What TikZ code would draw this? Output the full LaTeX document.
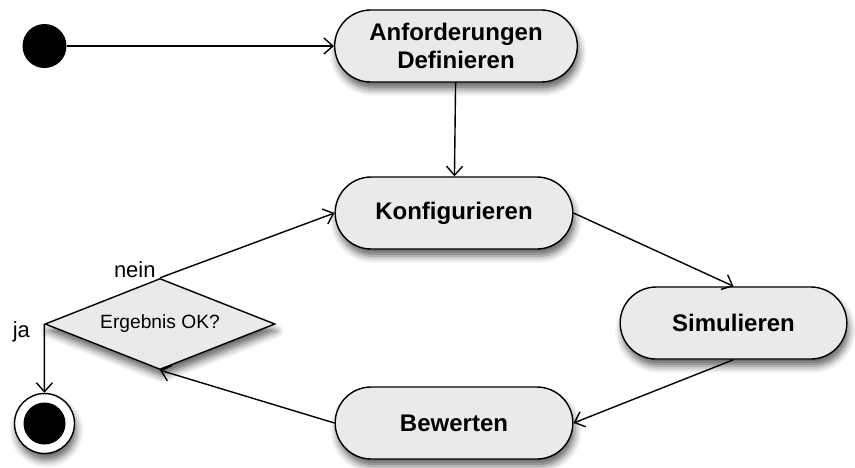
\documentclass[tikz,border=0pt]{standalone}
\usepackage{fontspec}
\setmainfont{Liberation Sans}
\usetikzlibrary{shapes.misc, shapes.geometric, arrows.meta, shadows.blur}
\definecolor{nodegray}{RGB}{234,234,234}

\begin{document}
\begin{tikzpicture}[x=0.5pt, y=-0.5pt,
        shade/.style={blur shadow={shadow xshift=1pt, shadow yshift=-3.5pt, shadow blur radius=3.5pt, shadow opacity=60}},
        state/.style={rounded rectangle, draw, line width=0.7pt, fill=nodegray, shade,
            minimum height=36pt, align=center, font=\fontsize{12}{14}\selectfont\bfseries},
        flow/.style={-{Straight Barb[length=4.5pt, width=8pt]}, line width=0.7pt},
        lbl/.style={inner sep=0pt, font=\fontsize{11}{13}\selectfont}]

        \useasboundingbox (0,0) rectangle (855,467);

        % Start and end
        \node[circle, fill=black, minimum size=22pt, inner sep=0pt] (start) at (44.5,46) {};
        \node[circle, draw, line width=0.7pt, fill=white, shade, minimum size=30pt, inner sep=0pt] (end) at (44.5,423.5) {};
        \node[circle, fill=black, minimum size=21pt, inner sep=0pt] (endin) at (end) {};

        % Actions
        \node[state, minimum width=128pt] (anf) at (456,46) {Anforderungen\\Definieren};
        \node[state, minimum width=125.5pt] (konf) at (454,213) {Konfigurieren};
        \node[state, minimum width=120pt] (sim) at (733.5,323) {Simulieren};
        \node[state, minimum width=125.5pt] (bew) at (454,423) {Bewerten};

        % Decision
        \node[diamond, aspect=2.53, draw, line width=0.7pt, fill=nodegray, shade, minimum width=115pt,
            minimum height=45.5pt, inner sep=0pt, font=\fontsize{9.6}{11}\selectfont] (dec) at (160,324) {Ergebnis OK?};

        \draw[flow] (start) -- (anf);
        \draw[flow] (anf) -- (konf);
        \draw[flow] (konf.east) -- (sim.north);
        \draw[flow] (sim.south) -- (bew.east);
        \draw[flow] (bew.west) -- (dec.south);
        \draw[flow] (dec.north) -- (konf.west);
        \draw[flow] (dec.west) -- (end);

        \node[lbl, anchor=base east] (nein) at ([xshift=-2pt]dec.north) {nein};
        \node[lbl, anchor=base east] (ja) at ([xshift=-7pt, yshift=-6.5pt]dec.west) {ja};

    \end{tikzpicture}
\end{document}
